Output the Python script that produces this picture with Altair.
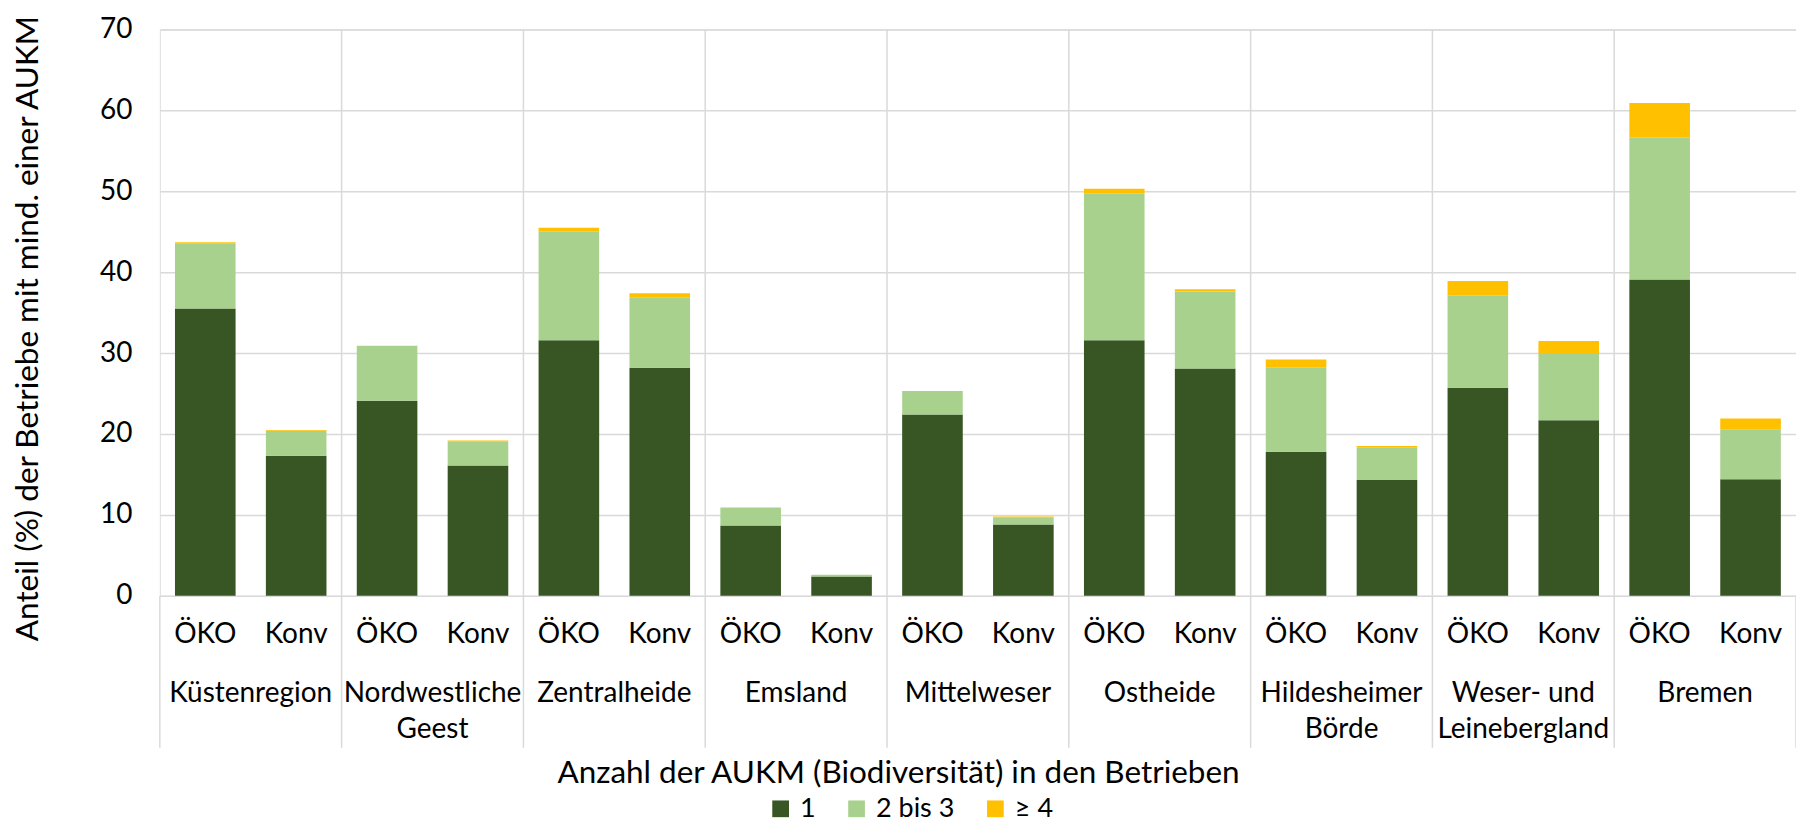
import altair as alt
import pandas as pd

regions = ["Küstenregion", "Nordwestliche Geest", "Zentralheide", "Emsland", "Mittelweser",
           "Ostheide", "Hildesheimer Börde", "Weser- und Leinebergland", "Bremen"]
region_line1 = ["Küstenregion", "Nordwestliche", "Zentralheide", "Emsland", "Mittelweser",
                "Ostheide", "Hildesheimer", "Weser- und", "Bremen"]
region_line2 = ["", "Geest", "", "", "", "", "Börde", "Leinebergland", ""]
types = ["ÖKO", "Konv"]
classes = ["1", "2 bis 3", "≥ 4"]
colors = ["#375623", "#A9D18E", "#FFC000"]

# values per region: [ÖKO, Konv]
val_1 = [[35.5, 17.3], [24.1, 16.1], [31.6, 28.2], [8.7, 2.4], [22.4, 8.8],
         [31.6, 28.1], [17.8, 14.3], [25.7, 21.7], [39.1, 14.4]]
val_2_3 = [[8.0, 3.1], [6.8, 3.0], [13.4, 8.7], [2.2, 0.2], [2.9, 0.9],
           [18.1, 9.5], [10.4, 4.0], [11.4, 8.2], [17.5, 6.2]]
val_4 = [[0.2, 0.1], [0.0, 0.1], [0.5, 0.5], [0.0, 0.0], [0.0, 0.1],
         [0.6, 0.3], [1.0, 0.2], [1.8, 1.6], [4.3, 1.3]]

rows = []
for i, r in enumerate(regions):
    for j, t in enumerate(types):
        for k, (c, vals) in enumerate(zip(classes, [val_1, val_2_3, val_4])):
            rows.append({"region": r, "type": t, "cls": c, "k": k, "value": vals[i][j]})
bars_df = pd.DataFrame(rows)

lab_df = pd.DataFrame([{"region": r, "type": t} for r in regions for t in types])
reg_df = pd.DataFrame({"region": regions, "l1": region_line1, "l2": region_line2})

FONT = "Lato"
FS = 28
TFS = 31.5
GRID = "#d9d9d9"
W, H = 1638, 567
BOTTOM_LINE = 719

x_axis = alt.Axis(labels=False, ticks=False, domain=False, grid=False,
                  title="Anzahl der AUKM (Biodiversität) in den Betrieben",
                  titleFont=FONT, titleFontSize=TFS, titleFontWeight="normal",
                  titleColor="#000000", titleX=739, titleY=178,
                  titleAlign="center", titleBaseline="middle")
x_scale = alt.Scale(paddingInner=0, paddingOuter=0)


def xenc(**kw):
    return alt.X("region:N", sort=regions, scale=x_scale, axis=x_axis, **kw)


xoff = alt.XOffset("type:N", sort=types,
                   scale=alt.Scale(paddingInner=1 / 3, paddingOuter=1 / 6))

rules_inner = alt.Chart(reg_df[reg_df.region != regions[0]]).mark_rule(
    color=GRID, strokeWidth=1.5).encode(
    x=xenc(bandPosition=0), y=alt.value(0), y2=alt.value(BOTTOM_LINE))
rules_left = alt.Chart(reg_df[reg_df.region == regions[0]]).mark_rule(
    color=GRID, strokeWidth=1.5).encode(
    x=xenc(bandPosition=0), y=alt.value(H), y2=alt.value(BOTTOM_LINE))
rules_right = alt.Chart(reg_df[reg_df.region == regions[-1]]).mark_rule(
    color=GRID, strokeWidth=1.5).encode(
    x=xenc(bandPosition=1), y=alt.value(H), y2=alt.value(BOTTOM_LINE))

bars = alt.Chart(bars_df).mark_bar().encode(
    x=xenc(),
    xOffset=xoff,
    y=alt.Y("value:Q", stack="zero",
            scale=alt.Scale(domain=[0, 70], nice=False),
            axis=alt.Axis(values=list(range(0, 71, 10)), grid=True, gridColor=GRID,
                          gridWidth=1.5, domain=False, ticks=False,
                          labelFont=FONT, labelFontSize=FS, labelColor="#000000",
                          labelPadding=28,
                          title="Anteil (%) der Betriebe mit mind. einer AUKM",
                          titleFont=FONT, titleFontSize=TFS, titleFontWeight="normal",
                          titleColor="#000000", titleAngle=270, titleX=-122, titleY=299,
                          titleAlign="center", titleBaseline="alphabetic")),
    color=alt.Color("cls:N", sort=classes,
                    scale=alt.Scale(domain=classes, range=colors),
                    legend=alt.Legend(orient="none", legendX=608, legendY=766.5,
                                      direction="horizontal", title=None,
                                      symbolType="square", symbolSize=280,
                                      symbolStrokeWidth=0, labelFont=FONT,
                                      labelFontSize=27, labelColor="#000000",
                                      labelOffset=6, columnPadding=27, padding=0)),
    order=alt.Order("k:Q", sort="ascending"),
)

type_labels = alt.Chart(lab_df).mark_text(
    font=FONT, fontSize=FS, color="#000000", baseline="middle", align="center").encode(
    x=xenc(), xOffset=xoff, y=alt.value(606), text="type:N")

reg_l1 = alt.Chart(reg_df).mark_text(
    font=FONT, fontSize=FS, color="#000000", baseline="middle", align="center").encode(
    x=xenc(), y=alt.value(665), text="l1:N")
reg_l2 = alt.Chart(reg_df).mark_text(
    font=FONT, fontSize=FS, color="#000000", baseline="middle", align="center").encode(
    x=xenc(), y=alt.value(701.6), text="l2:N")

chart = alt.layer(rules_inner, rules_left, rules_right, bars, type_labels, reg_l1, reg_l2).properties(
    width=W, height=H,
    autosize=alt.AutoSizeParams(type="none"),
    padding={"left": 152, "top": 21, "right": 0, "bottom": 231},
).configure_view(stroke=None).configure(background="white")

chart.save("out.html", embed_options={"renderer": "svg", "actions": False})
